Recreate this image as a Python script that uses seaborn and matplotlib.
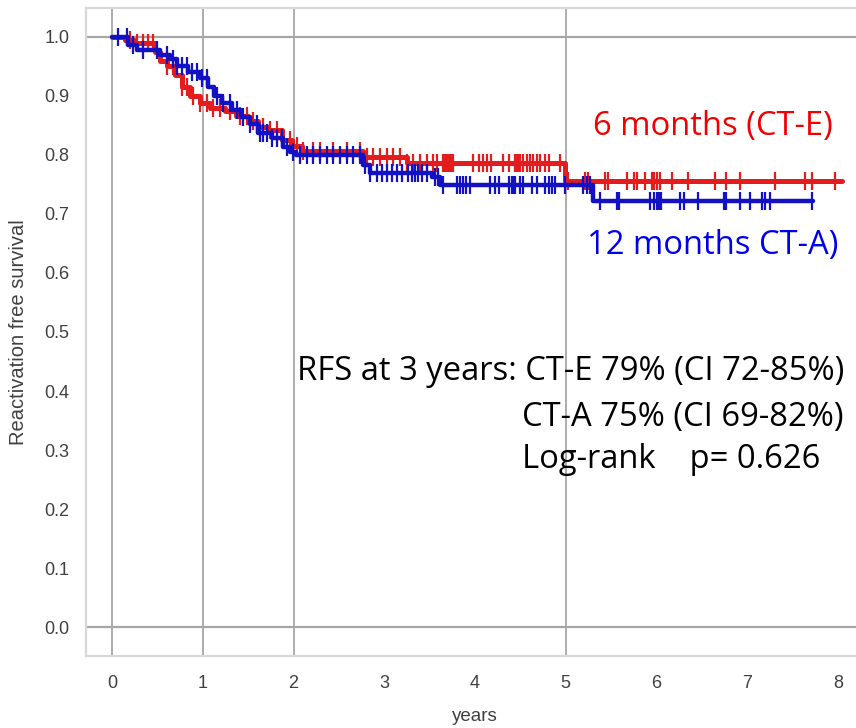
import numpy as np
import pandas as pd
import matplotlib
matplotlib.use("Agg")
import matplotlib.pyplot as plt
import seaborn as sns

# ---------------- data ----------------
# Kaplan-Meier step points: time (years) and survival
ce_time = [0.00, 0.14, 0.25, 0.47, 0.53, 0.61, 0.69, 0.77, 0.86, 0.97, 1.08, 1.25,
           1.37, 1.50, 1.61, 1.72, 1.87, 1.98, 2.09, 2.77, 3.25, 4.99, 8.04]
ce_surv = [1.000, 0.995, 0.990, 0.975, 0.960, 0.950, 0.935, 0.915, 0.900, 0.888, 0.880, 0.874,
           0.866, 0.857, 0.848, 0.842, 0.825, 0.815, 0.806, 0.797, 0.786, 0.756, 0.756]

ca_time = [0.00, 0.18, 0.28, 0.53, 0.64, 0.72, 0.84, 0.97, 1.06, 1.12, 1.21, 1.32,
           1.42, 1.52, 1.61, 1.76, 1.88, 1.96, 2.03, 2.77, 2.84, 3.53, 3.61, 5.30, 7.72]
ca_surv = [1.000, 0.986, 0.978, 0.970, 0.963, 0.950, 0.940, 0.930, 0.915, 0.900, 0.888, 0.876,
           0.865, 0.853, 0.838, 0.828, 0.814, 0.805, 0.800, 0.783, 0.769, 0.762, 0.749, 0.722, 0.722]

# censoring times
ce_cens = [0.20, 0.28, 0.34, 0.40, 0.45, 0.61, 0.67, 0.77, 0.83, 0.89, 0.97, 1.05, 1.11, 1.19,
           1.30, 1.41, 1.49, 1.55, 1.66, 1.74, 1.82, 1.88, 1.96, 2.04, 2.10, 2.21, 2.29, 2.44,
           2.59, 2.73, 2.81, 2.88, 2.95, 3.03, 3.10, 3.17, 3.25, 3.32, 3.39, 3.47, 3.54, 3.58,
           3.65, 3.67, 3.69, 3.71, 3.73, 3.76, 3.98, 4.04, 4.09, 4.13, 4.18, 4.31, 4.37, 4.44,
           4.46, 4.48, 4.50, 4.53, 4.57, 4.61, 4.64, 4.68, 4.72, 4.77, 4.81, 4.94, 5.03, 5.21,
           5.24, 5.43, 5.47, 5.67, 5.75, 5.78, 5.87, 5.95, 5.97, 6.00, 6.04, 6.17, 6.35, 6.64,
           6.77, 6.92, 7.31, 7.64, 7.71, 7.97]
ca_cens = [0.07, 0.16, 0.23, 0.34, 0.50, 0.61, 0.67, 0.72, 0.77, 0.83, 0.88, 0.94, 0.99, 1.05,
           1.16, 1.22, 1.30, 1.38, 1.44, 1.52, 1.60, 1.63, 1.66, 1.71, 1.76, 1.82, 1.87, 1.93,
           1.99, 2.07, 2.15, 2.21, 2.29, 2.37, 2.44, 2.51, 2.59, 2.66, 2.73, 2.79, 2.84, 2.92,
           2.98, 3.03, 3.09, 3.14, 3.20, 3.26, 3.31, 3.34, 3.37, 3.42, 3.47, 3.56, 3.59, 3.65,
           3.80, 3.83, 3.87, 3.90, 3.94, 4.17, 4.22, 4.26, 4.37, 4.41, 4.43, 4.44, 4.50, 4.53,
           4.63, 4.68, 4.77, 4.81, 4.85, 4.88, 4.99, 5.19, 5.23, 5.27, 5.38, 5.56, 5.59, 5.93,
           5.97, 6.01, 6.03, 6.05, 6.26, 6.30, 6.46, 6.74, 6.77, 6.92, 7.03, 7.16, 7.20, 7.25, 7.71]

x_ticks = [0, 1, 2, 3, 4, 5, 6, 7, 8]
y_ticks = [0.0, 0.1, 0.2, 0.3, 0.4, 0.5, 0.6, 0.7, 0.8, 0.9, 1.0]
ref_x = [0, 1, 2, 5]
ref_y = [0.0, 1.0]

label_ce = "6 months (CT-E)"
label_ca = "12 months CT-A)"
stats_lines = ["RFS at 3 years: CT-E 79% (CI 72-85%)",
               "CT-A 75% (CI 69-82%)",
               "Log-rank    p= 0.626"]

RED = "#e31d1d"
BLUE = "#1212c4"


def step_value(times, surv, t):
    times = np.asarray(times)
    surv = np.asarray(surv)
    idx = np.searchsorted(times, np.asarray(t), side="right") - 1
    return surv[idx]


# ---------------- figure ----------------
sns.set_theme(style="white")
plt.rcParams["font.family"] = ["Liberation Sans", "DejaVu Sans"]

fig = plt.figure(figsize=(8.56, 7.28), dpi=100)
ax = fig.add_axes([86 / 856, 1 - 656 / 728, 770 / 856, 648 / 728])

for xv in ref_x:
    ax.axvline(xv, color="#a6a6a6", lw=1.3, zorder=1)
for yv in ref_y:
    ax.axhline(yv, color="#a6a6a6", lw=1.6, zorder=1)

df_ce = pd.DataFrame({"t": ce_time, "s": ce_surv})
df_ca = pd.DataFrame({"t": ca_time, "s": ca_surv})

sns.lineplot(data=df_ce, x="t", y="s", drawstyle="steps-post", color=RED, linewidth=3.6,
             estimator=None, ax=ax, zorder=3)
sns.lineplot(data=df_ca, x="t", y="s", drawstyle="steps-post", color=BLUE, linewidth=3.2,
             estimator=None, ax=ax, zorder=4)

cdf_ce = pd.DataFrame({"t": ce_cens, "s": step_value(ce_time, ce_surv, ce_cens)})
cdf_ca = pd.DataFrame({"t": ca_cens, "s": step_value(ca_time, ca_surv, ca_cens)})
sns.lineplot(data=cdf_ce, x="t", y="s", color=RED, linestyle="", marker="|",
             markersize=13, markeredgewidth=1.6, markeredgecolor=RED,
             estimator=None, ax=ax, zorder=3)
sns.lineplot(data=cdf_ca, x="t", y="s", color=BLUE, linestyle="", marker="|",
             markersize=13, markeredgewidth=1.6, markeredgecolor=BLUE,
             estimator=None, ax=ax, zorder=4)

ax.set_xlim(-0.2865, 8.198)
ax.set_ylim(-0.049, 1.049)
ax.set_xticks(x_ticks)
ax.set_yticks(y_ticks)
ax.set_xticklabels([str(v) for v in x_ticks])
ax.set_yticklabels([f"{v:.1f}" for v in y_ticks])
ax.tick_params(axis="both", direction="out", colors="#a8a8a8", labelcolor="#404040",
               labelsize=13, width=1.2)
ax.tick_params(axis="x", length=8, pad=6)
ax.tick_params(axis="y", length=9, pad=3)

for side in ["left", "top", "bottom"]:
    ax.spines[side].set_color("#d8d8d8")
    ax.spines[side].set_linewidth(1.6)
ax.spines["right"].set_visible(False)

ax.set_xlabel("years", fontsize=13.5, color="#404040")
ax.set_ylabel("Reactivation free survival", fontsize=14.5, color="#404040")
ax.xaxis.set_label_coords(0.505, -0.080)
ax.yaxis.set_label_coords(-0.0753, 0.5)

afont = ["Open Sans", "DejaVu Sans"]
fs = 23.6
ax.text(0.970, 0.804, label_ce, transform=ax.transAxes, ha="right", va="baseline",
        color="#f00000", fontsize=fs, family=afont)
ax.text(0.977, 0.620, label_ca, transform=ax.transAxes, ha="right", va="baseline",
        color="#0000f0", fontsize=fs, family=afont)
ax.text(0.274, 0.426, stats_lines[0], transform=ax.transAxes, ha="left", va="baseline",
        color="black", fontsize=fs, family=afont)
ax.text(0.566, 0.355, stats_lines[1], transform=ax.transAxes, ha="left", va="baseline",
        color="black", fontsize=fs, family=afont)
ax.text(0.566, 0.290, stats_lines[2], transform=ax.transAxes, ha="left", va="baseline",
        color="black", fontsize=fs, family=afont)

fig.savefig("out.png", dpi=100)
